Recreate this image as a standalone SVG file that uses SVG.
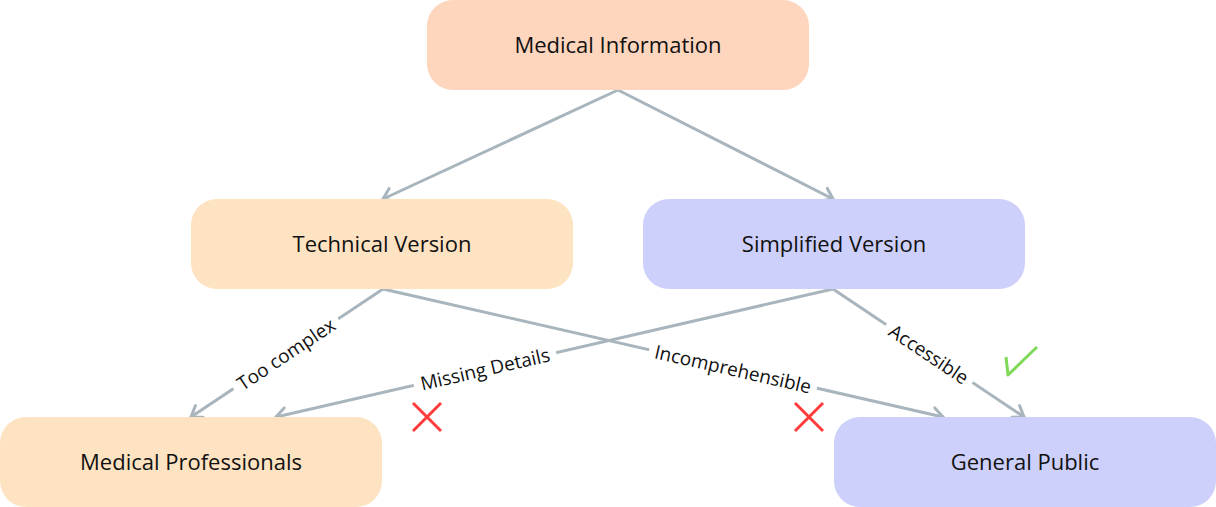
<svg xmlns="http://www.w3.org/2000/svg" width="1216" height="507" viewBox="0 0 1216 507">
<style>
.node-text{font-family:"Open Sans","Liberation Sans",sans-serif;font-size:22px;fill:#111;text-anchor:middle}
.lbl{font-family:"Open Sans","Liberation Sans",sans-serif;font-size:19px;fill:#111;text-anchor:middle;dominant-baseline:central}
.edge{stroke:#A9B5BD;stroke-width:3;fill:none;stroke-linecap:round;marker-end:url(#arr)}
.lblbg{fill:#fff}
.peach{fill:#FED5BD}
.tan{fill:#FEE3C2}
.lav{fill:#CDD0FA}
.cross{stroke:#FF3B3B;stroke-width:3;fill:none}
.check{stroke:#7ED957;stroke-width:3;fill:none;stroke-linejoin:round}
</style>
<defs>
<marker id="arr" viewBox="-14 -10 16 20" markerWidth="16" markerHeight="20" refX="0" refY="0" orient="auto" markerUnits="userSpaceOnUse">
<path d="M -10 -7 L 0 0 L -10 7" stroke="#A9B5BD" stroke-width="3" fill="none" stroke-linecap="round" stroke-linejoin="round"/>
</marker>
</defs>
<rect width="1216" height="507" fill="#fff"/>
<g id="connectors">
<line class="edge" x1="618" y1="90" x2="383" y2="199"/>
<line class="edge" x1="618" y1="90" x2="833" y2="199"/>
<line class="edge" x1="383" y1="289" x2="191" y2="417"/>
<line class="edge" x1="383" y1="289" x2="943" y2="417"/>
<line class="edge" x1="833" y1="289" x2="276" y2="417"/>
<line class="edge" x1="833" y1="289" x2="1024" y2="417"/>
<g transform="translate(286,354) rotate(-33.7)"><rect class="lblbg" x="-63" y="-11" width="126" height="22"/><text class="lbl" x="0" y="0">Too complex</text></g>
<g transform="translate(733,369) rotate(12.88)"><rect class="lblbg" x="-86" y="-11" width="172" height="22"/><text class="lbl" x="0" y="0">Incomprehensible</text></g>
<g transform="translate(485,369) rotate(-12.94)"><rect class="lblbg" x="-73" y="-11" width="146" height="22"/><text class="lbl" x="0" y="0">Missing Details</text></g>
<g transform="translate(929,354) rotate(33.83)"><rect class="lblbg" x="-52" y="-11" width="104" height="22"/><text class="lbl" x="0" y="0">Accessible</text></g>
</g>
<g id="node-medical-information">
<rect class="peach" x="427" y="0" width="382" height="90" rx="26"/>
<text class="node-text" x="618" y="53">Medical Information</text>
</g>
<g id="node-technical-version">
<rect class="tan" x="191" y="199" width="382" height="90" rx="26"/>
<text class="node-text" x="382" y="252">Technical Version</text>
</g>
<g id="node-simplified-version">
<rect class="lav" x="643" y="199" width="382" height="90" rx="26"/>
<text class="node-text" x="834" y="252">Simplified Version</text>
</g>
<g id="node-medical-professionals">
<rect class="tan" x="0" y="417" width="382" height="90" rx="26"/>
<text class="node-text" x="191" y="470">Medical Professionals</text>
</g>
<g id="node-general-public">
<rect class="lav" x="834" y="417" width="382" height="90" rx="26"/>
<text class="node-text" x="1025" y="470">General Public</text>
</g>
<g id="marks">
<path class="cross" d="M413 403 L441 431 M441 403 L413 431"/>
<path class="cross" d="M795 403 L823 431 M823 403 L795 431"/>
<polyline class="check" points="1006,357 1008,375 1037,347"/>
</g>
</svg>
